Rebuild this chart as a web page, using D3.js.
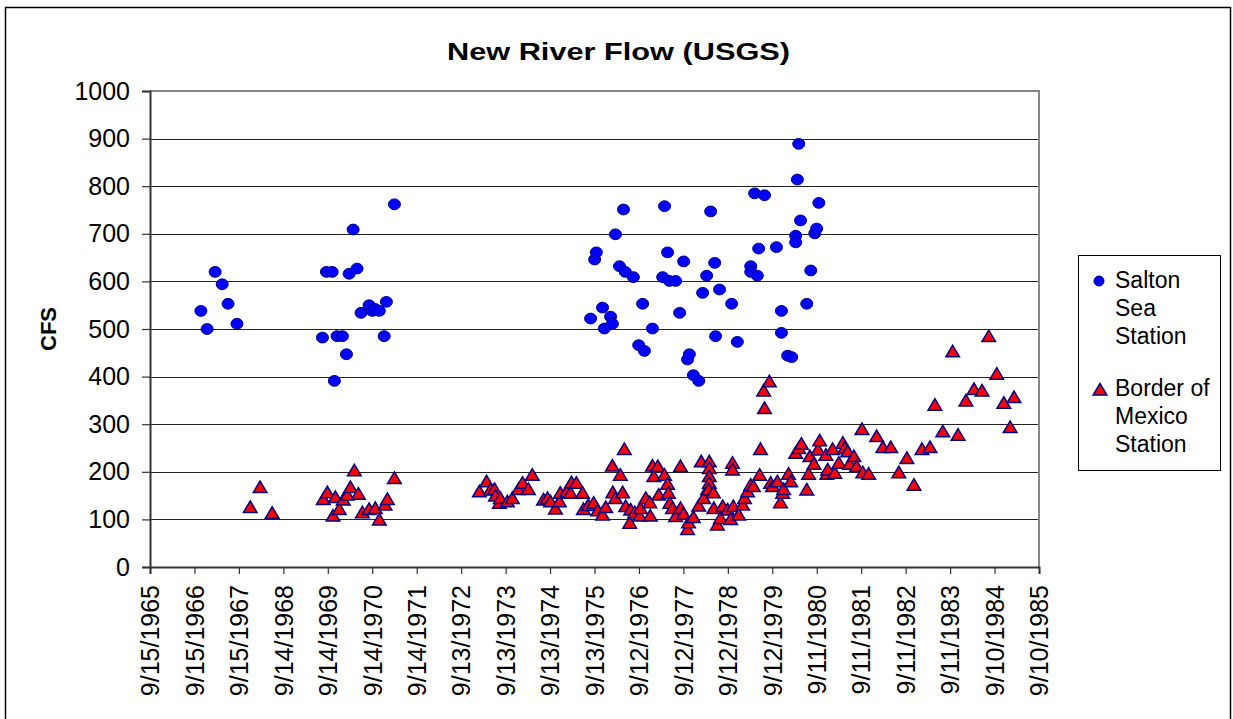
<!DOCTYPE html>
<html>
<head>
<meta charset="utf-8">
<script src="https://cdn.jsdelivr.net/npm/d3@7"></script>
<style>
  body { margin: 0; background: #fff; }
  text { font-family: "Liberation Sans", Arial, sans-serif; }
</style>
</head>
<body>
<div id="chart"></div>
<script>
var width = 1233, height = 719;

// [decimal year, cfs]
var saltonSea = [
  [1966.85,538],[1966.99,500],[1967.17,620],[1967.33,594],[1967.46,553],[1967.66,511],
  [1969.58,482],[1969.67,620],[1969.80,620],[1969.85,391],[1969.91,485],[1970.03,485],
  [1970.12,447],[1970.18,616],[1970.27,709],[1970.36,627],[1970.45,534],[1970.63,550],
  [1970.70,538],[1970.77,542],[1970.86,538],[1970.97,485],[1971.02,557],[1971.20,762],
  [1975.61,522],[1975.70,646],[1975.74,661],[1975.88,545],[1975.92,501],[1976.06,526],
  [1976.10,511],[1976.17,699],[1976.26,632],[1976.35,751],[1976.39,620],[1976.57,609],
  [1976.69,466],[1976.78,553],[1976.82,454],[1977.00,501],[1977.23,609],[1977.27,758],
  [1977.34,661],[1977.38,601],[1977.52,601],[1977.61,534],[1977.70,642],[1977.79,436],
  [1977.83,447],[1977.92,403],[1978.04,391],[1978.13,576],[1978.22,612],[1978.31,747],
  [1978.40,639],[1978.42,485],[1978.51,583],[1978.78,553],[1978.91,473],[1979.21,632],
  [1979.21,620],[1979.30,785],[1979.36,612],[1979.39,669],[1979.52,781],[1979.79,672],
  [1979.90,538],[1979.90,492],[1980.04,444],[1980.13,441],[1980.22,696],[1980.22,682],
  [1980.26,814],[1980.29,889],[1980.33,728],[1980.47,553],[1980.56,623],[1980.65,701],
  [1980.69,711],[1980.74,765]
];

var borderMexico = [
  [1967.96,125],[1968.18,167],[1968.45,113],
  [1969.60,142],[1969.69,156],[1969.82,107],[1969.87,146],[1969.96,121],[1970.05,141],
  [1970.14,151],[1970.21,167],[1970.30,202],[1970.39,153],[1970.48,114],[1970.63,121],
  [1970.77,123],[1970.86,99],[1970.99,130],[1971.04,142],[1971.20,186],
  [1973.11,158],[1973.27,179],[1973.36,162],[1973.45,163],[1973.47,149],[1973.56,134],
  [1973.58,144],[1973.74,137],[1973.85,144],[1973.99,163],[1974.08,176],[1974.21,163],
  [1974.30,193],[1974.55,141],[1974.64,144],[1974.71,137],[1974.82,122],[1974.91,137],
  [1974.93,155],[1975.07,158],[1975.16,155],[1975.18,177],[1975.29,176],[1975.43,155],
  [1975.45,121],[1975.56,129],[1975.68,134],[1975.77,118],[1975.88,109],[1975.95,125],
  [1976.10,212],[1976.11,156],[1976.17,144],[1976.28,193],[1976.33,156],[1976.37,247],
  [1976.40,127],[1976.49,92],[1976.51,120],[1976.60,114],[1976.71,107],[1976.73,123],
  [1976.85,144],[1976.94,135],[1976.95,107],[1977.00,212],[1977.03,190],[1977.12,211],
  [1977.14,151],[1977.27,193],[1977.34,174],[1977.36,155],[1977.39,134],[1977.45,123],
  [1977.52,106],[1977.63,211],[1977.63,123],[1977.70,111],[1977.79,79],[1977.81,93],
  [1977.92,104],[1978.04,128],[1978.10,221],[1978.15,144],[1978.24,163],[1978.28,221],
  [1978.28,207],[1978.28,190],[1978.28,176],[1978.26,162],[1978.37,156],[1978.38,123],
  [1978.46,88],[1978.53,102],[1978.58,127],[1978.69,120],[1978.76,100],[1978.80,218],
  [1978.80,204],[1978.82,127],[1978.94,109],[1979.03,130],[1979.07,144],[1979.14,158],
  [1979.21,172],[1979.27,169],[1979.41,193],[1979.43,247],[1979.50,370],[1979.52,333],
  [1979.63,389],[1979.66,176],[1979.70,169],[1979.81,179],[1979.88,135],[1979.93,155],
  [1979.95,163],[1980.06,195],[1980.11,179],[1980.22,239],[1980.29,249],[1980.35,258],
  [1980.47,162],[1980.51,195],[1980.54,232],[1980.63,216],[1980.72,246],[1980.76,265],
  [1980.90,235],[1980.92,195],[1980.94,204],[1981.05,247],[1981.10,197],[1981.19,218],
  [1981.28,260],[1981.32,249],[1981.39,242],[1981.43,216],[1981.53,232],[1981.59,211],
  [1981.71,289],[1981.73,198],[1981.86,195],[1982.04,274],[1982.18,251],[1982.36,251],
  [1982.54,198],[1982.72,228],[1982.88,172],[1983.06,247],[1983.24,251],[1983.35,340],
  [1983.53,284],[1983.75,452],[1983.87,277],[1984.05,349],[1984.23,373],[1984.41,370],
  [1984.56,484],[1984.74,405],[1984.90,344],[1985.04,293],[1985.13,356]
];

var yTicks = d3.range(0, 1001, 100);
var xStart = new Date(1965, 8, 15);
var xTicks = d3.range(21).map(function(i) { return d3.timeDay.offset(xStart, i * 365); });
var legendNames = [["Salton", "Sea", "Station"], ["Border of", "Mexico", "Station"]];

var plotLeft = 150, plotRight = 1039, plotTop = 91, plotBottom = 567;

function toDate(v) {
  var y = Math.floor(v);
  var days = d3.timeDay.count(new Date(y, 0, 1), new Date(y + 1, 0, 1));
  return d3.timeDay.offset(new Date(y, 0, 1), Math.round((v - y) * days));
}

var xScale = d3.scaleTime()
  .domain([xStart, xTicks[20]])
  .range([plotLeft, plotRight]);
var yScale = d3.scaleLinear()
  .domain([0, 1000])
  .range([plotBottom, plotTop]);

var svg = d3.select("#chart").append("svg")
  .attr("width", width)
  .attr("height", height);

// outer chart border
svg.append("rect")
  .attr("x", 5.5).attr("y", 7.5)
  .attr("width", 1225).attr("height", 730)
  .attr("fill", "#fff")
  .attr("stroke", "#000")
  .attr("stroke-width", 1.5);

// gridlines
svg.append("g")
  .selectAll("line")
  .data(yTicks.slice(1, 10))
  .enter().append("line")
  .attr("x1", plotLeft).attr("x2", plotRight)
  .attr("y1", function(d) { return Math.round(yScale(d)) + 0.5; })
  .attr("y2", function(d) { return Math.round(yScale(d)) + 0.5; })
  .attr("stroke", "#222")
  .attr("stroke-width", 1);

// plot area border top / right
svg.append("path")
  .attr("d", "M" + plotLeft + "," + plotTop + "H" + plotRight + "V" + plotBottom)
  .attr("fill", "none")
  .attr("stroke", "#888")
  .attr("stroke-width", 2);

var xAxis = d3.axisBottom(xScale)
  .tickValues(xTicks)
  .tickFormat(d3.timeFormat("%-m/%-d/%Y"))
  .tickSize(7)
  .tickPadding(0);

var gx = svg.append("g")
  .attr("transform", "translate(0," + plotBottom + ")")
  .call(xAxis);
gx.select(".domain").attr("stroke", "#333").attr("stroke-width", 2);
gx.selectAll(".tick line").attr("stroke", "#333").attr("stroke-width", 1.2);
gx.selectAll(".tick text")
  .attr("transform", "rotate(-90)")
  .attr("text-anchor", "end")
  .attr("x", -18)
  .attr("y", 0)
  .attr("dy", "0.35em")
  .style("font-size", "25px")
  .style("font-family", "Liberation Sans, Arial, sans-serif")
  .attr("fill", "#000");

var yAxis = d3.axisLeft(yScale)
  .tickValues(yTicks)
  .tickFormat(d3.format("d"))
  .tickSize(8)
  .tickPadding(12);

var gy = svg.append("g")
  .attr("transform", "translate(" + plotLeft + ",0)")
  .call(yAxis);
gy.select(".domain").attr("stroke", "#333").attr("stroke-width", 2);
gy.selectAll(".tick line").attr("stroke", "#333").attr("stroke-width", 1.2);
gy.selectAll(".tick text")
  .style("font-size", "25px")
  .style("font-family", "Liberation Sans, Arial, sans-serif")
  .attr("fill", "#000");

// title and axis label
svg.append("text")
  .attr("x", 447).attr("y", 60)
  .attr("textLength", 343)
  .attr("lengthAdjust", "spacingAndGlyphs")
  .text("New River Flow (USGS)")
  .style("font-size", "23px")
  .style("font-weight", "bold");

svg.append("text")
  .text("CFS")
  .attr("transform", "translate(56," + ((plotTop + plotBottom) / 2) + ") rotate(-90)")
  .attr("text-anchor", "middle")
  .style("font-size", "22px")
  .style("font-weight", "bold");

var triangle = "M0,-6.5L6.8,5L-6.8,5Z";

// series
svg.append("g")
  .selectAll("ellipse")
  .data(saltonSea)
  .enter().append("ellipse")
  .attr("cx", function(d) { return xScale(toDate(d[0])); })
  .attr("cy", function(d) { return yScale(d[1]); })
  .attr("rx", 6)
  .attr("ry", 5.4)
  .attr("fill", "#0000ff")
  .attr("stroke", "#000080")
  .attr("stroke-width", 1);

svg.append("g")
  .selectAll("path")
  .data(borderMexico)
  .enter().append("path")
  .attr("d", triangle)
  .attr("transform", function(d) { return "translate(" + xScale(toDate(d[0])) + "," + yScale(d[1]) + ")"; })
  .attr("fill", "#ff0000")
  .attr("stroke", "#000080")
  .attr("stroke-width", 1.5);

// legend
svg.append("rect")
  .attr("x", 1078.5).attr("y", 255.5)
  .attr("width", 142).attr("height", 215)
  .attr("fill", "#fff")
  .attr("stroke", "#000")
  .attr("stroke-width", 1);

svg.append("circle")
  .attr("cx", 1099).attr("cy", 281)
  .attr("r", 5)
  .attr("fill", "#0000ff")
  .attr("stroke", "#000080");

svg.append("path")
  .attr("d", triangle)
  .attr("transform", "translate(1100,390)")
  .attr("fill", "#ff0000")
  .attr("stroke", "#000080")
  .attr("stroke-width", 1.5);

legendNames.forEach(function(lines, k) {
  lines.forEach(function(t, j) {
    svg.append("text")
      .attr("x", 1115)
      .attr("y", 288 + k * 108 + j * 28)
      .text(t)
      .style("font-size", "23px");
  });
});
</script>
</body>
</html>
